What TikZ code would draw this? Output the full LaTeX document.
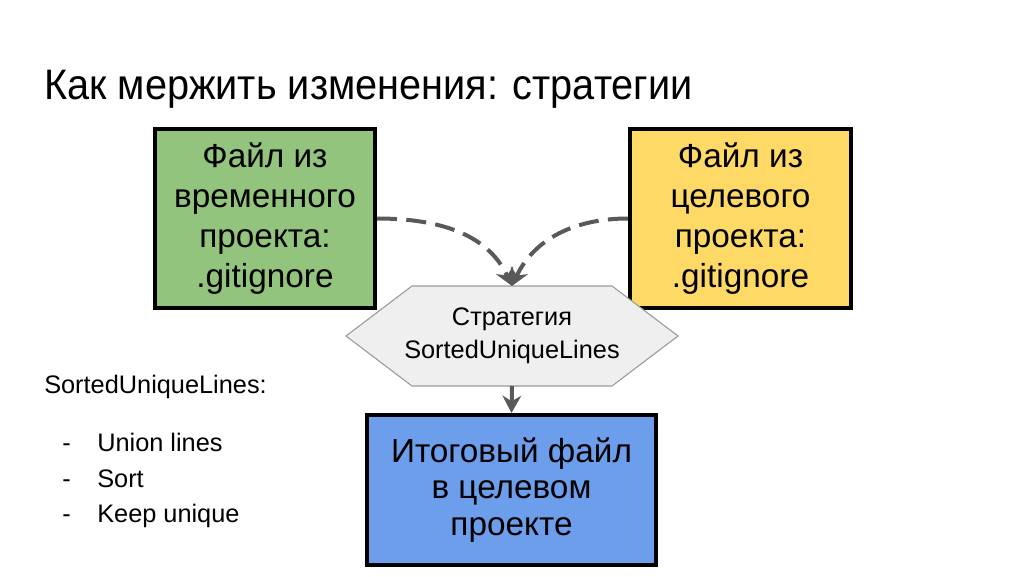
\documentclass[tikz,border=0pt]{standalone}
\usepackage{fontspec}
\setmainfont{Liberation Sans}
\newfontfamily\titlefont[FakeStretch=0.93]{Liberation Sans}
\usetikzlibrary{arrows.meta}
\definecolor{filegreen}{HTML}{93C47D}
\definecolor{fileyellow}{HTML}{FFD966}
\definecolor{fileblue}{HTML}{6D9EEB}
\definecolor{arrowgray}{HTML}{595959}
\definecolor{hexfill}{HTML}{EFEFEF}
\definecolor{hexline}{HTML}{999999}
\begin{document}
\begin{tikzpicture}[x=0.75pt,y=0.75pt,
    filebox/.style={draw=black,line width=3pt,align=center,
      font=\fontsize{25}{30}\selectfont},
    flow/.style={draw=arrowgray,line width=3pt,-{Stealth[length=13pt,width=14pt]}}]
      \useasboundingbox (0,0) rectangle (1024,576);
      \node[anchor=base west,inner sep=0pt,font=\titlefont\fontsize{32}{36}\selectfont]
        (title) at (44,476) {Как мержить изменения: стратегии};
      \node[filebox,fill=filegreen,minimum width=165pt,minimum height=134pt]
        (tmp) at (265,357.5) {Файл из\\временного\\проекта:\\.gitignore};
      \node[filebox,fill=fileyellow,minimum width=166pt,minimum height=134pt]
        (dst) at (740.5,357.5) {Файл из\\целевого\\проекта:\\.gitignore};
      \node[filebox,fill=fileblue,minimum width=217pt,minimum height=112.5pt,
        font=\fontsize{25}{27.5}\selectfont]
        (res) at (511.5,86) {Итоговый файл\\в целевом\\проекте};
      % strategy hexagon
      \filldraw[fill=hexfill,draw=hexline,line width=0.8pt]
        (346,240) -- (412,290) -- (612,290) -- (678,240)
        -- (612,190) -- (412,190) -- cycle;
      \node[align=center,font=\fontsize{19}{24.75}\selectfont]
        (strat) at (512,240) {Стратегия\\SortedUniqueLines};
      \coordinate (hextop) at (512,290);
      \coordinate (hexbot) at (512,190);
      \begin{scope}[flow]
        \draw[dash pattern=on 15pt off 7pt] (tmp.east) to[out=0,in=115] (hextop);
        \draw[dash pattern=on 15pt off 7pt] (dst.west) to[out=180,in=65] (hextop);
        \draw (hexbot) -- (res.north);
      \end{scope}
      % legend on the left
      \begin{scope}[font=\fontsize{19}{24}\selectfont,inner sep=0pt]
        \node[anchor=base west] (rule) at (44,183) {SortedUniqueLines:};
        \node[anchor=base west] (d1) at (62,125) {-};
        \node[anchor=base west] (i1) at (97,125) {Union lines};
        \node[anchor=base west] (d2) at (62,89) {-};
        \node[anchor=base west] (i2) at (97,89) {Sort};
        \node[anchor=base west] (d3) at (62,54) {-};
        \node[anchor=base west] (i3) at (97,54) {Keep unique};
      \end{scope}
    \end{tikzpicture}
\end{document}
